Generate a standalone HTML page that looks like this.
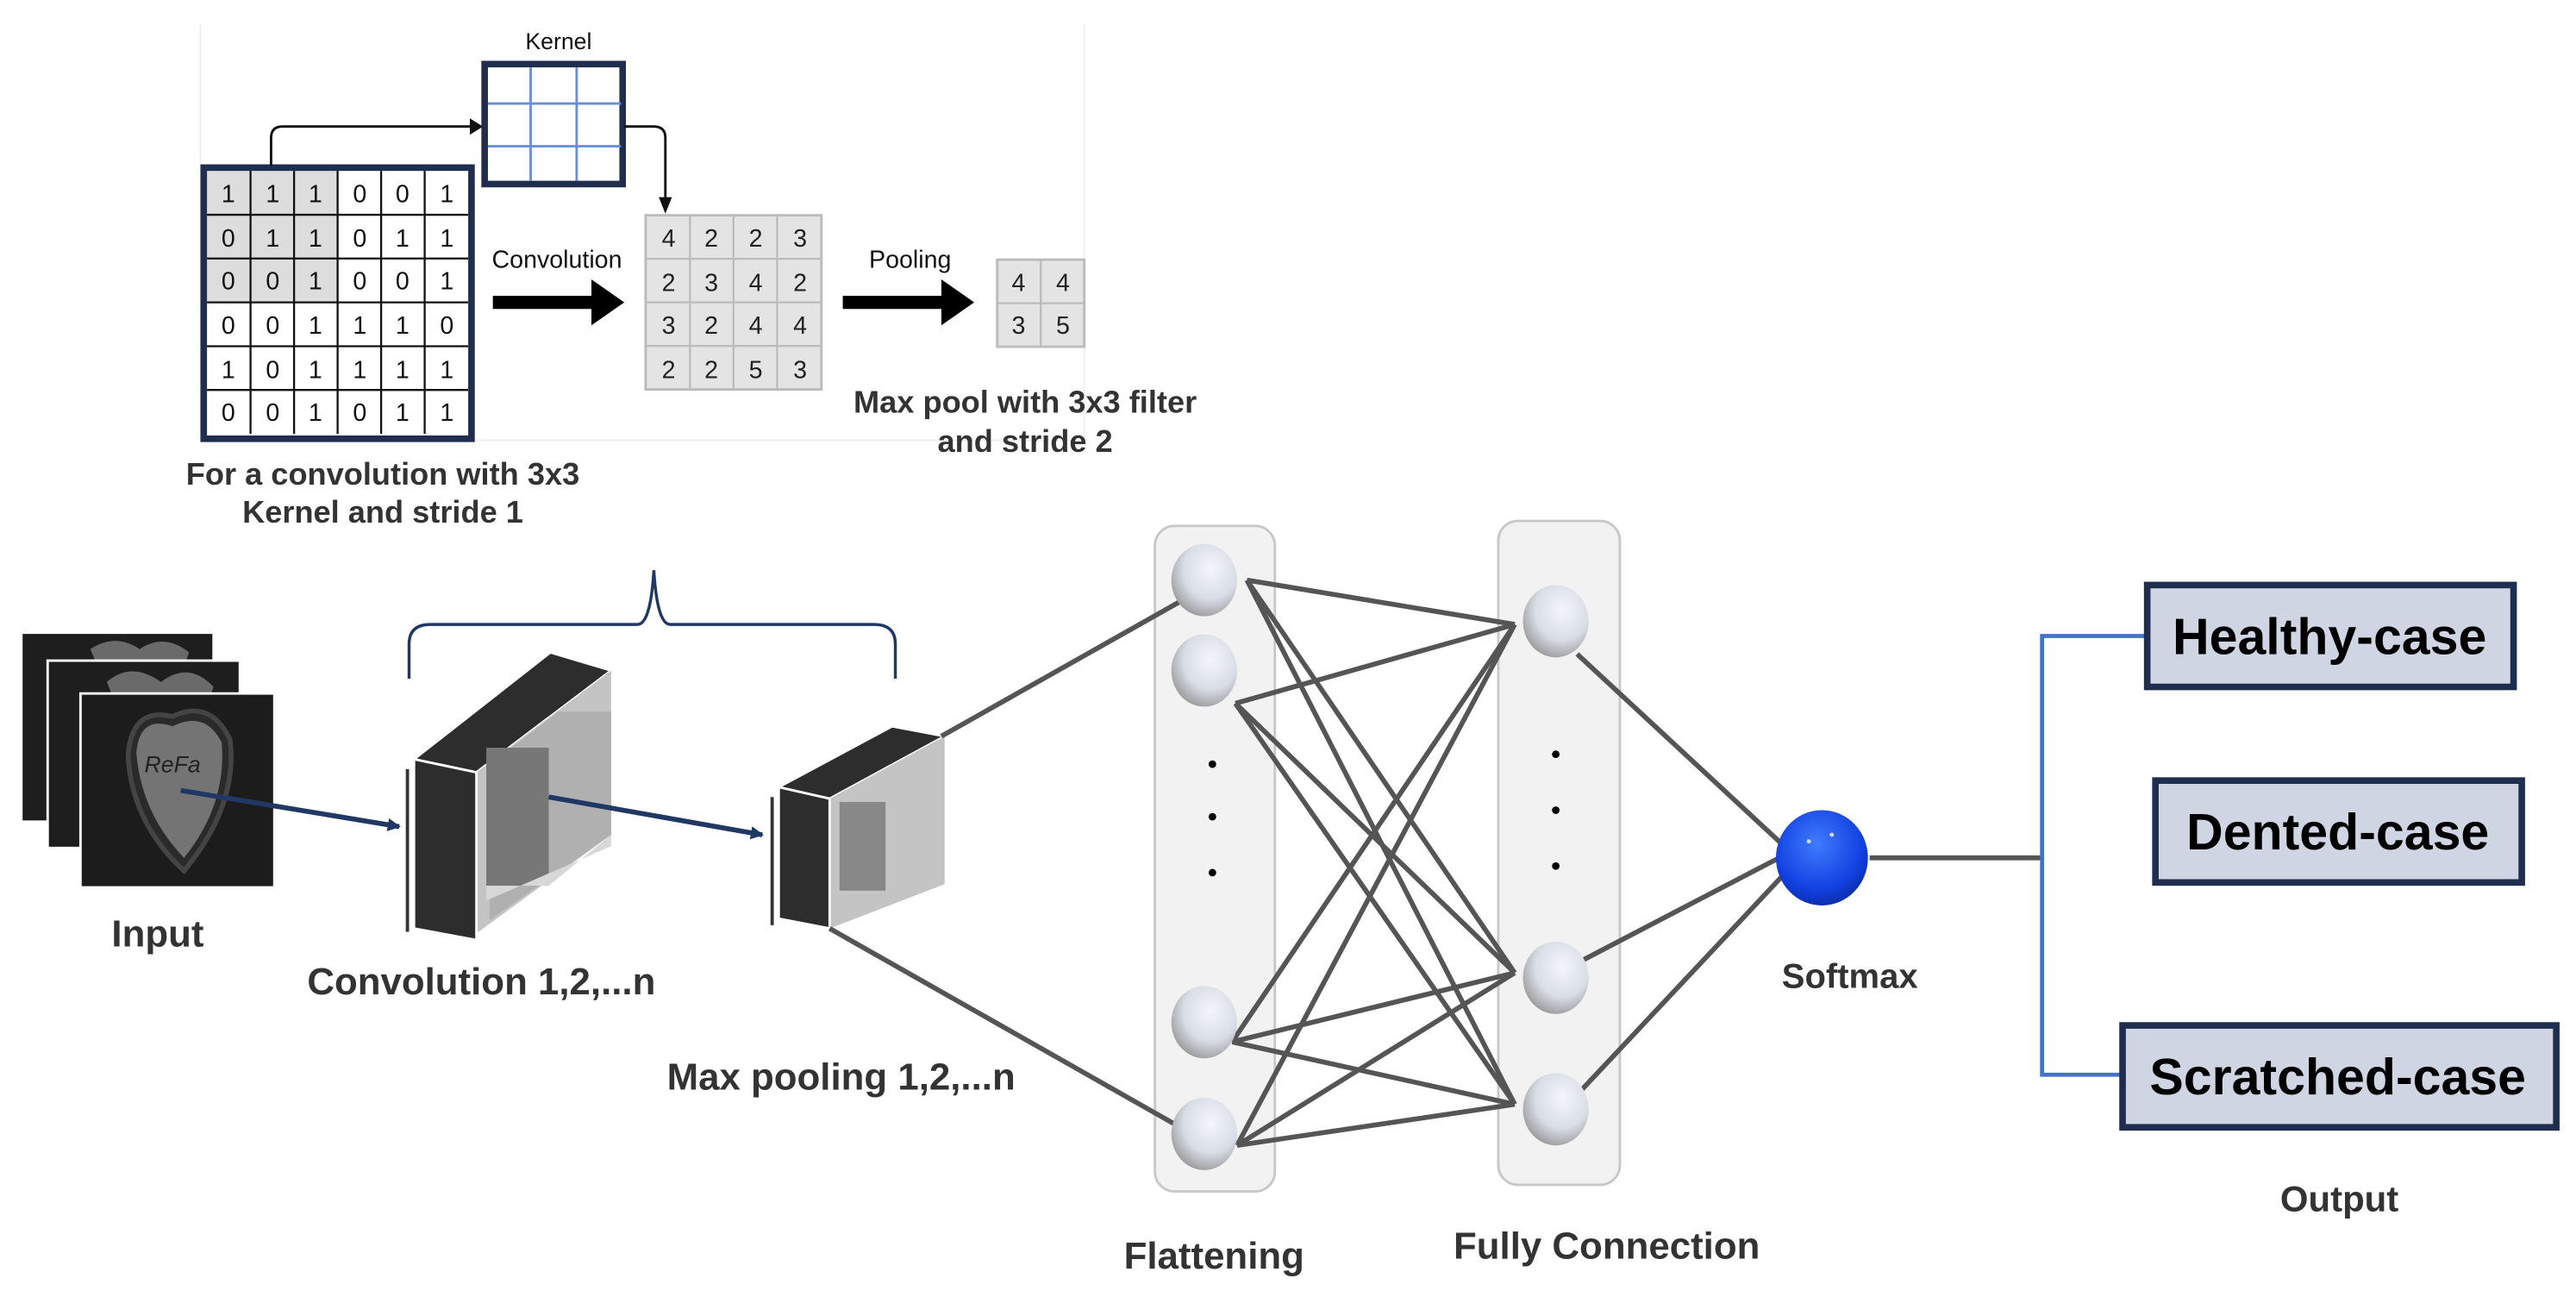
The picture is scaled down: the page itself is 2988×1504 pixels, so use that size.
<!DOCTYPE html>
<html><head><meta charset="utf-8"><style>
html,body{margin:0;padding:0;background:#fff;}
svg{display:block;}
text{font-family:"Liberation Sans","Noto Sans CJK KR",sans-serif;}
.b{font-weight:bold;fill:#333;}
</style></head><body>
<svg width="2988" height="1504" viewBox="0 0 1568 789.25" xmlns="http://www.w3.org/2000/svg">
<defs>
<radialGradient id="ball" cx="0.6" cy="0.35" r="0.75">
<stop offset="0" stop-color="#f4f6fb"/><stop offset="0.55" stop-color="#d9dde6"/><stop offset="1" stop-color="#8c8c8c"/>
</radialGradient>
<radialGradient id="blue" cx="0.45" cy="0.35" r="0.7">
<stop offset="0" stop-color="#3f7cff"/><stop offset="0.7" stop-color="#1240e0"/><stop offset="1" stop-color="#0a2aa0"/>
</radialGradient>
<marker id="ah" markerWidth="8" markerHeight="8" refX="7" refY="4" orient="auto" markerUnits="userSpaceOnUse"><path d="M0,0 L8,4 L0,8 z" fill="#1f3864"/></marker>
</defs>

<path d="M122,15 V268 H660 V15" fill="none" stroke="#eee" stroke-width="1"/>

<g font-size="15" text-anchor="middle" fill="#111">
<rect x="126" y="104" width="80" height="80" fill="#ddd"/>
<g stroke="#111" stroke-width="1.2" fill="none">
<path d="M152.5,104V264M179,104V264M205.5,104V264M232,104V264M258.5,104V264"/>
<path d="M126,130.7H285M126,157.3H285M126,184H285M126,210.7H285M126,237.3H285"/>
</g>
<rect x="124" y="102" width="163" height="165" fill="none" stroke="#1f2d4f" stroke-width="4"/>
<text x="139" y="123">1</text><text x="166" y="123">1</text><text x="192" y="123">1</text><text x="219" y="123">0</text><text x="245" y="123">0</text><text x="272" y="123">1</text>
<text x="139" y="150">0</text><text x="166" y="150">1</text><text x="192" y="150">1</text><text x="219" y="150">0</text><text x="245" y="150">1</text><text x="272" y="150">1</text>
<text x="139" y="176">0</text><text x="166" y="176">0</text><text x="192" y="176">1</text><text x="219" y="176">0</text><text x="245" y="176">0</text><text x="272" y="176">1</text>
<text x="139" y="203">0</text><text x="166" y="203">0</text><text x="192" y="203">1</text><text x="219" y="203">1</text><text x="245" y="203">1</text><text x="272" y="203">0</text>
<text x="139" y="230">1</text><text x="166" y="230">0</text><text x="192" y="230">1</text><text x="219" y="230">1</text><text x="245" y="230">1</text><text x="272" y="230">1</text>
<text x="139" y="256">0</text><text x="166" y="256">0</text><text x="192" y="256">1</text><text x="219" y="256">0</text><text x="245" y="256">1</text><text x="272" y="256">1</text>
</g>

<text x="340" y="30" font-size="14" text-anchor="middle" fill="#111">Kernel</text>
<rect x="295" y="39" width="84" height="73" fill="#fff" stroke="#1f2d4f" stroke-width="4"/>
<path d="M323,41V110M351,41V110M297,63H378M297,89H378" stroke="#6a8fd6" stroke-width="1.5"/>
<path d="M165,101 V84 Q165,77 172,77 H288" fill="none" stroke="#111" stroke-width="1.5"/>
<path d="M380,77 H398 Q405,77 405,84 V128" fill="none" stroke="#111" stroke-width="1.5"/>
<path d="M401,120 L405,130 L409,120 z" fill="#111"/>
<path d="M286,72 L294,77 L286,82 z" fill="#111"/>

<text x="339" y="163" font-size="15" text-anchor="middle" fill="#111">Convolution</text>
<path d="M300,180 H360 V170 L380,184 L360,198 V188 H300 z" fill="#000"/>
<text x="554" y="163" font-size="15" text-anchor="middle" fill="#111">Pooling</text>
<path d="M513,180 H573 V170 L593,184 L573,198 V188 H513 z" fill="#000"/>

<g font-size="15" text-anchor="middle" fill="#222">
<rect x="393" y="131" width="107" height="106" fill="#e4e4e4" stroke="#bbb" stroke-width="1.5"/>
<path d="M420,131V237M446.5,131V237M473,131V237M393,157.5H500M393,184H500M393,210.5H500" stroke="#bbb" stroke-width="1.2"/>
<text x="407" y="150">4</text><text x="433" y="150">2</text><text x="460" y="150">2</text><text x="487" y="150">3</text>
<text x="407" y="177">2</text><text x="433" y="177">3</text><text x="460" y="177">4</text><text x="487" y="177">2</text>
<text x="407" y="203">3</text><text x="433" y="203">2</text><text x="460" y="203">4</text><text x="487" y="203">4</text>
<text x="407" y="230">2</text><text x="433" y="230">2</text><text x="460" y="230">5</text><text x="487" y="230">3</text>
<rect x="607" y="158" width="53" height="53" fill="#e4e4e4" stroke="#bbb" stroke-width="1.5"/>
<path d="M633.5,158V211M607,184.5H660" stroke="#bbb" stroke-width="1.2"/>
<text x="620" y="177">4</text><text x="647" y="177">4</text>
<text x="620" y="203">3</text><text x="647" y="203">5</text>
</g>

<g class="b" font-size="19" text-anchor="middle">
<text x="624" y="251">Max pool with 3x3 filter</text>
<text x="624" y="275">and stride 2</text>
<text x="233" y="295">For a convolution with 3x3</text>
<text x="233" y="318">Kernel and stride 1</text>
</g>

<path d="M249,413 V392 Q249,380 262,380 H388 Q396,380 398,347 Q400,380 408,380 H532 Q545,380 545,392 V413" fill="none" stroke="#1f3864" stroke-width="1.8"/>

<rect x="13" y="385" width="117" height="115" fill="#1e1e1e" stroke="#fff" stroke-width="1.5"/>
<path d="M55,395 Q70,385 85,395 Q100,385 115,397 L110,412 H62 z" fill="#6a6a6a"/>
<rect x="29" y="402" width="117" height="114" fill="#1e1e1e" stroke="#fff" stroke-width="1.5"/>
<path d="M65,415 Q80,402 98,415 Q115,402 130,418 L125,432 H72 z" fill="#6a6a6a"/>
<rect x="49" y="422" width="118" height="118" fill="#1c1c1c" stroke="#fff" stroke-width="1.5"/>
<path d="M78,460 Q80,430 105,436 Q128,425 140,450 Q145,490 112,530 Q80,500 78,460 z" fill="#2a2a2a" stroke="#444" stroke-width="3"/>
<path d="M83,458 Q85,435 105,442 Q125,432 135,452 Q138,490 112,522 Q86,495 83,458 z" fill="#747474"/>
<text x="105" y="470" font-size="14" font-style="italic" fill="#222" text-anchor="middle" font-family="Liberation Serif">ReFa</text>
<text x="96" y="576" class="b" font-size="23" text-anchor="middle">Input</text>

<polygon points="252,462 290,470 372,408 335,397" fill="#2d2d2d" stroke="#fff" stroke-width="1.5"/>
<polygon points="290,470 372,408 372,508 290,568" fill="#c4c4c4"/>
<polygon points="298,465 340,433 372,433 372,508 298,560" fill="#b0b0b0"/>
<rect x="296" y="455" width="38" height="84" fill="#777"/>
<polygon points="296,539 334,539 372,508 372,515 296,548" fill="#d8d8d8"/>
<polygon points="252,462 290,470 290,572 252,565" fill="#2d2d2d" stroke="#fff" stroke-width="1.5"/>
<line x1="248" y1="468" x2="248" y2="567" stroke="#333" stroke-width="2"/>
<line x1="110" y1="481" x2="243" y2="503" stroke="#1f3864" stroke-width="3" marker-end="url(#ah)"/>
<line x1="334" y1="485" x2="464" y2="508" stroke="#1f3864" stroke-width="3" marker-end="url(#ah)"/>

<polygon points="474,479 505,486 575,448 543,442" fill="#2d2d2d" stroke="#fff" stroke-width="1.5"/>
<polygon points="505,486 575,448 575,538 505,565" fill="#c4c4c4"/>
<rect x="511" y="488" width="28" height="54" fill="#888"/>
<polygon points="474,479 505,486 505,565 474,559" fill="#2d2d2d" stroke="#fff" stroke-width="1.5"/>
<line x1="470" y1="485" x2="470" y2="563" stroke="#333" stroke-width="2"/>
<text x="293" y="605" class="b" font-size="23" text-anchor="middle">Convolution 1,2,...n</text>
<text x="512" y="663" class="b" font-size="23" text-anchor="middle">Max pooling 1,2,...n</text>

<rect x="703" y="320" width="73" height="405" rx="12" fill="#f2f2f2" stroke="#c8c8c8" stroke-width="1.5"/>
<rect x="912" y="317" width="74" height="404" rx="12" fill="#f2f2f2" stroke="#c8c8c8" stroke-width="1.5"/>

<g stroke="#555" stroke-width="3" fill="none">
<line x1="573" y1="448" x2="722" y2="364"/>
<line x1="505" y1="565" x2="722" y2="688"/>
<path d="M759,353 L922,380 M759,353 L922,592 M759,353 L922,672"/>
<path d="M752,428 L922,380 M752,428 L922,592 M752,428 L922,672"/>
<path d="M750,634 L922,380 M750,634 L922,592 M750,634 L922,672"/>
<path d="M753,697 L922,380 M753,697 L922,592 M753,697 L922,672"/>
<path d="M960,398 L1084,513 M962,585 L1083,522 M962,664 L1085,533"/>
<path d="M1138,522 H1244"/>
</g>

<g fill="url(#ball)">
<ellipse cx="733" cy="353" rx="20" ry="22"/>
<ellipse cx="733" cy="408" rx="20" ry="22"/>
<ellipse cx="733" cy="622" rx="20" ry="22"/>
<ellipse cx="733" cy="690" rx="20" ry="22"/>
<ellipse cx="947" cy="378" rx="20" ry="22"/>
<ellipse cx="947" cy="595" rx="20" ry="22"/>
<ellipse cx="947" cy="675" rx="20" ry="22"/>
</g>
<g fill="#000">
<circle cx="738" cy="465" r="2.3"/><circle cx="738" cy="497" r="2.3"/><circle cx="738" cy="531" r="2.3"/>
<circle cx="947" cy="459" r="2.3"/><circle cx="947" cy="493" r="2.3"/><circle cx="947" cy="527" r="2.3"/>
</g>
<ellipse cx="1109" cy="522" rx="28" ry="29" fill="url(#blue)"/>
<circle cx="1101" cy="512" r="1.3" fill="#cde"/><circle cx="1115" cy="508" r="1.3" fill="#cde"/>

<text x="1126" y="601" class="b" font-size="21" text-anchor="middle">Softmax</text>
<text x="739" y="772" class="b" font-size="23" text-anchor="middle">Flattening</text>
<text x="978" y="766" class="b" font-size="23" text-anchor="middle">Fully Connection</text>
<text x="1424" y="737" class="b" font-size="22" text-anchor="middle">Output</text>

<path d="M1306,387 H1243 V654 H1291" fill="none" stroke="#4472c4" stroke-width="2.5"/>

<g stroke="#1f2d4f" stroke-width="4" fill="#cfd5e3">
<rect x="1307" y="356" width="223" height="62"/>
<rect x="1312" y="475" width="223" height="62"/>
<rect x="1292" y="624" width="264" height="62"/>
</g>
<g font-size="31" font-weight="bold" fill="#000" text-anchor="middle">
<text x="1418" y="398">Healthy-case</text>
<text x="1423" y="517">Dented-case</text>
<text x="1423" y="666">Scratched-case</text>
</g>
</svg>
</body></html>
